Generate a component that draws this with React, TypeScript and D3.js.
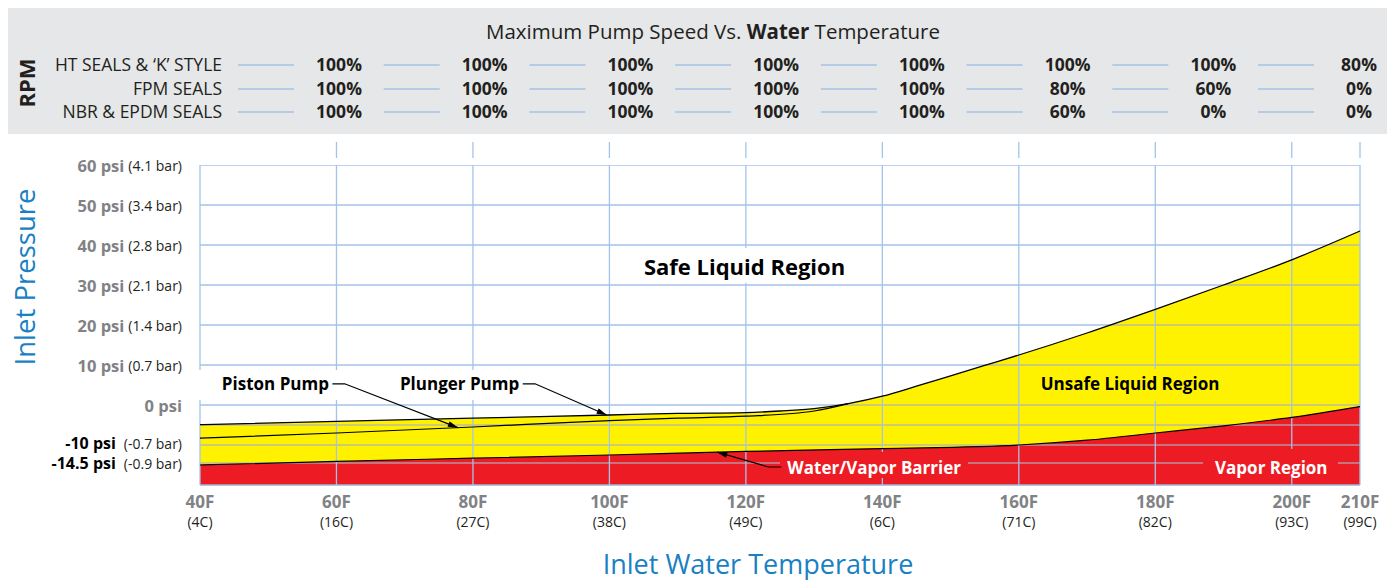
import * as d3 from "d3";

const WIDTH = 1395;
const HEIGHT = 580;
const PLOT = { left: 200, right: 1360, top: 165, bottom: 485 };
const FONT = "'Open Sans', 'Noto Sans', sans-serif";

const GRID_BLUE = "#a4c3ea";
const YELLOW = "#fff200";
const RED = "#ed1c24";
const AXIS_GREY = "#808285";
const TEXT_DARK = "#231f20";
const TITLE_BLUE = "#1a80c4";

// header table
const sealLabels = ["HT SEALS & ‘K’ STYLE", "FPM SEALS", "NBR & EPDM SEALS"];
const htSpeeds = [100, 100, 100, 100, 100, 100, 100, 80];
const fpmSpeeds = [100, 100, 100, 100, 100, 80, 60, 0];
const nbrSpeeds = [100, 100, 100, 100, 100, 60, 0, 0];

// axes
const tempTicks = [40, 60, 80, 100, 120, 140, 160, 180, 200, 210];
const celsiusLabels = ["(4C)", "(16C)", "(27C)", "(38C)", "(49C)", "(6C)", "(71C)", "(82C)", "(93C)", "(99C)"];
const psiTicks = [60, 50, 40, 30, 20, 10, 0, -10, -14.5];
const barLabels = ["(4.1 bar)", "(3.4 bar)", "(2.8 bar)", "(2.1 bar)", "(1.4 bar)", "(0.7 bar)", "", "(-0.7 bar)", "(-0.9 bar)"];
const gridPsi = [60, 50, 40, 30, 20, 10, 0, -5, -10, -14.5];

// curves (temperature F -> psi)
const plungerTemps = [40, 60, 80, 100, 110, 120, 125, 130, 135, 140, 145, 150, 155, 160, 170, 180, 190, 200, 210];
const plungerPsi = [-4.9, -4.1, -3.3, -2.5, -2.1, -1.9, -1.5, -0.9, 0.35, 2.2, 4.7, 7.3, 9.9, 12.5, 18.0, 23.9, 30.0, 36.3, 43.5];
const pistonTemps = [40, 60, 80, 100, 110, 120, 130, 135];
const pistonPsi = [-8.3, -7.0, -5.5, -3.9, -3.3, -2.8, -1.5, 0.35];
const barrierTemps = [40, 60, 80, 100, 120, 140, 160, 170, 180, 190, 200, 210];
const barrierPsi = [-15.0, -14.1, -13.3, -12.5, -11.6, -10.9, -10.0, -8.8, -7.0, -5.2, -3.1, -0.4];

export default function App() {
  const x = d3.scaleLinear().domain([40, 210]).range([PLOT.left, PLOT.right]);
  const y = d3.scaleLinear().domain([-20, 60]).range([PLOT.bottom, PLOT.top]);
  const col = d3.scaleLinear().domain([0, 7]).range([339, 1359]);

  const plunger = plungerTemps.map((t, i) => [t, plungerPsi[i]] as [number, number]);
  const piston = pistonTemps.map((t, i) => [t, pistonPsi[i]] as [number, number]);
  const barrier = barrierTemps.map((t, i) => [t, barrierPsi[i]] as [number, number]);

  const line = d3
    .line<[number, number]>()
    .x((d) => x(d[0]))
    .y((d) => y(d[1]))
    .curve(d3.curveMonotoneX);
  const areaBelow = d3
    .area<[number, number]>()
    .x((d) => x(d[0]))
    .y0(y(-20))
    .y1((d) => y(d[1]))
    .curve(d3.curveMonotoneX);
  const areaAbove = d3
    .area<[number, number]>()
    .x((d) => x(d[0]))
    .y0(y(60))
    .y1((d) => y(d[1]))
    .curve(d3.curveMonotoneX);

  const pistonAt = d3.scaleLinear().domain(pistonTemps).range(pistonPsi);
  const plungerAt = d3.scaleLinear().domain(plungerTemps).range(plungerPsi);
  const barrierAt = d3.scaleLinear().domain(barrierTemps).range(barrierPsi);

  const speedRows = [htSpeeds, fpmSpeeds, nbrSpeeds];
  const rowY = [64, 88, 111];

  const leader = (pts: [number, number][]) =>
    d3.line<[number, number]>()(pts.map((p) => [x(p[0]), y(p[1])] as [number, number]));

  return (
    <div style={{ position: "absolute", left: 0, top: 0 }}>
      <svg width={WIDTH} height={HEIGHT} fontFamily={FONT}>
        <defs>
          <marker id="arrow" viewBox="0 0 10 6" refX="10" refY="3" markerWidth="10" markerHeight="5" orient="auto">
            <path d="M0,0 L10,3 L0,6 Z" fill="#000" />
          </marker>
          <clipPath id="above">
            <path d={areaAbove(plunger) || ""} />
          </clipPath>
          <clipPath id="below">
            <path d={areaBelow(plunger) || ""} />
          </clipPath>
        </defs>

        {/* header */}
        <rect x={8} y={8} width={1379} height={126} fill="#e6e7e8" />
        <text x={713} y={31} textAnchor="middle" dominantBaseline="central" fontSize={20.5} fill={TEXT_DARK}>
          Maximum Pump Speed Vs. <tspan fontWeight="bold">Water</tspan> Temperature
        </text>
        <text
          transform="translate(26,83) rotate(-90)"
          textAnchor="middle"
          dominantBaseline="central"
          fontSize={22}
          fontWeight="bold"
          fill={TEXT_DARK}
        >
          RPM
        </text>
        {sealLabels.map((s, r) => (
          <g key={s}>
            <text x={222} y={rowY[r]} textAnchor="end" dominantBaseline="central" fontSize={17.5} fill={TEXT_DARK}>
              {s}
            </text>
            {speedRows[r].map((v, i) => (
              <g key={i}>
                <line
                  x1={col(i) - 101}
                  x2={col(i) - 45}
                  y1={rowY[r] + 1}
                  y2={rowY[r] + 1}
                  stroke="#a4c2e6"
                  strokeWidth={1.5}
                />
                <text
                  x={col(i)}
                  y={rowY[r]}
                  textAnchor="middle"
                  dominantBaseline="central"
                  fontSize={17.5}
                  fontWeight="bold"
                  fill={TEXT_DARK}
                >
                  {v}%
                </text>
              </g>
            ))}
          </g>
        ))}

        {/* fills */}
        <rect x={PLOT.left} y={PLOT.top} width={PLOT.right - PLOT.left} height={PLOT.bottom - PLOT.top} fill="#fff" />
        <path d={areaBelow(plunger) || ""} fill={YELLOW} />
        <path d={areaBelow(barrier) || ""} fill={RED} />

        {/* grid */}
        <g clipPath="url(#above)">
          {gridPsi.map((p) => (
            <line key={p} x1={PLOT.left} x2={PLOT.right} y1={y(p)} y2={y(p)} stroke={GRID_BLUE} strokeWidth={1.3} />
          ))}
        </g>
        <g clipPath="url(#below)">
          {gridPsi.map((p) => (
            <line
              key={p}
              x1={PLOT.left}
              x2={PLOT.right}
              y1={y(p)}
              y2={y(p)}
              stroke="rgba(170,175,190,0.8)"
              strokeWidth={1.3}
            />
          ))}
        </g>
        <line x1={PLOT.left} x2={PLOT.right} y1={y(-20)} y2={y(-20)} stroke="#9bb5dc" strokeWidth={1.3} />
        {tempTicks.map((t) => (
          <g key={t}>
            <line x1={x(t)} x2={x(t)} y1={PLOT.top} y2={PLOT.bottom} stroke={GRID_BLUE} strokeWidth={1.3} />
            {t > 40 && <line x1={x(t)} x2={x(t)} y1={142} y2={158} stroke={GRID_BLUE} strokeWidth={1.3} />}
          </g>
        ))}

        {/* label backgrounds */}
        <rect x={196} y={370} width={150} height={30} fill="#fff" />
        <rect x={392} y={370} width={150} height={30} fill="#fff" />
        <rect x={635} y={248} width={220} height={35} fill="#fff" />
        <rect x={1035} y={369} width={190} height={32} fill={YELLOW} />
        <rect x={780} y={452} width={188} height={26} fill={RED} />
        <rect x={1203} y={449} width={135} height={28} fill={RED} />

        {/* curves */}
        <path d={line(plunger) || ""} fill="none" stroke="#000" strokeWidth={1.3} />
        <path d={line(piston) || ""} fill="none" stroke="#000" strokeWidth={1.2} />
        <path d={line(barrier) || ""} fill="none" stroke="#000" strokeWidth={1.2} />

        {/* leaders */}
        <path
          d={leader([[59.4, 5.3], [61.2, 5.3], [77.8, pistonAt(77.8)]]) || ""}
          fill="none"
          stroke="#000"
          strokeWidth={1.2}
          markerEnd="url(#arrow)"
        />
        <path
          d={leader([[87.3, 5.3], [89.1, 5.3], [99.6, plungerAt(99.6)]]) || ""}
          fill="none"
          stroke="#000"
          strokeWidth={1.2}
          markerEnd="url(#arrow)"
        />
        <path
          d={leader([[125.2, -15.5], [123.3, -15.5], [115.8, barrierAt(115.8)]]) || ""}
          fill="none"
          stroke="#000"
          strokeWidth={1.2}
          markerEnd="url(#arrow)"
        />

        {/* region labels */}
        <g fontWeight="bold" dominantBaseline="central">
          <text x={x(43.2)} y={y(5.5)} fontSize={17} fill="#000">Piston Pump</text>
          <text x={x(69.3)} y={y(5.5)} fontSize={17} fill="#000">Plunger Pump</text>
          <text x={x(119.8)} y={y(34.8)} textAnchor="middle" fontSize={22} fill="#000">Safe Liquid Region</text>
          <text x={x(176.3)} y={y(5.5)} textAnchor="middle" fontSize={17} fill="#000">Unsafe Liquid Region</text>
          <text x={x(138.8)} y={y(-15.5)} textAnchor="middle" fontSize={17} fill="#fff">Water/Vapor Barrier</text>
          <text x={x(197)} y={y(-15.5)} textAnchor="middle" fontSize={17} fill="#fff">Vapor Region</text>
        </g>

        {/* y axis */}
        {psiTicks.map((p, i) => {
          const neg = p < 0;
          const shift = p === -10 ? -2 : 0;
          return (
            <text key={p} x={182} y={y(p) + shift} textAnchor="end" dominantBaseline="central">
              <tspan fontWeight="bold" fontSize={neg ? 16 : 16.5} fill={neg ? "#000" : AXIS_GREY}>
                {p} psi
              </tspan>
              {barLabels[i] && (
                <tspan dx={neg ? 8 : 4} fontSize={14} fill={TEXT_DARK}>
                  {barLabels[i]}
                </tspan>
              )}
            </text>
          );
        })}
        <text
          transform="translate(24,277) rotate(-90)"
          textAnchor="middle"
          dominantBaseline="central"
          fontSize={27.5}
          fill={TITLE_BLUE}
        >
          Inlet Pressure
        </text>

        {/* x axis */}
        {tempTicks.map((t, i) => (
          <g key={t}>
            <text x={x(t)} y={501} textAnchor="middle" dominantBaseline="central" fontSize={17} fontWeight="bold" fill={AXIS_GREY}>
              {t}F
            </text>
            <text x={x(t)} y={521} textAnchor="middle" dominantBaseline="central" fontSize={14} fill={TEXT_DARK}>
              {celsiusLabels[i]}
            </text>
          </g>
        ))}
        <text x={758} y={563} textAnchor="middle" dominantBaseline="central" fontSize={27} fill={TITLE_BLUE}>
          Inlet Water Temperature
        </text>
      </svg>
    </div>
  );
}
